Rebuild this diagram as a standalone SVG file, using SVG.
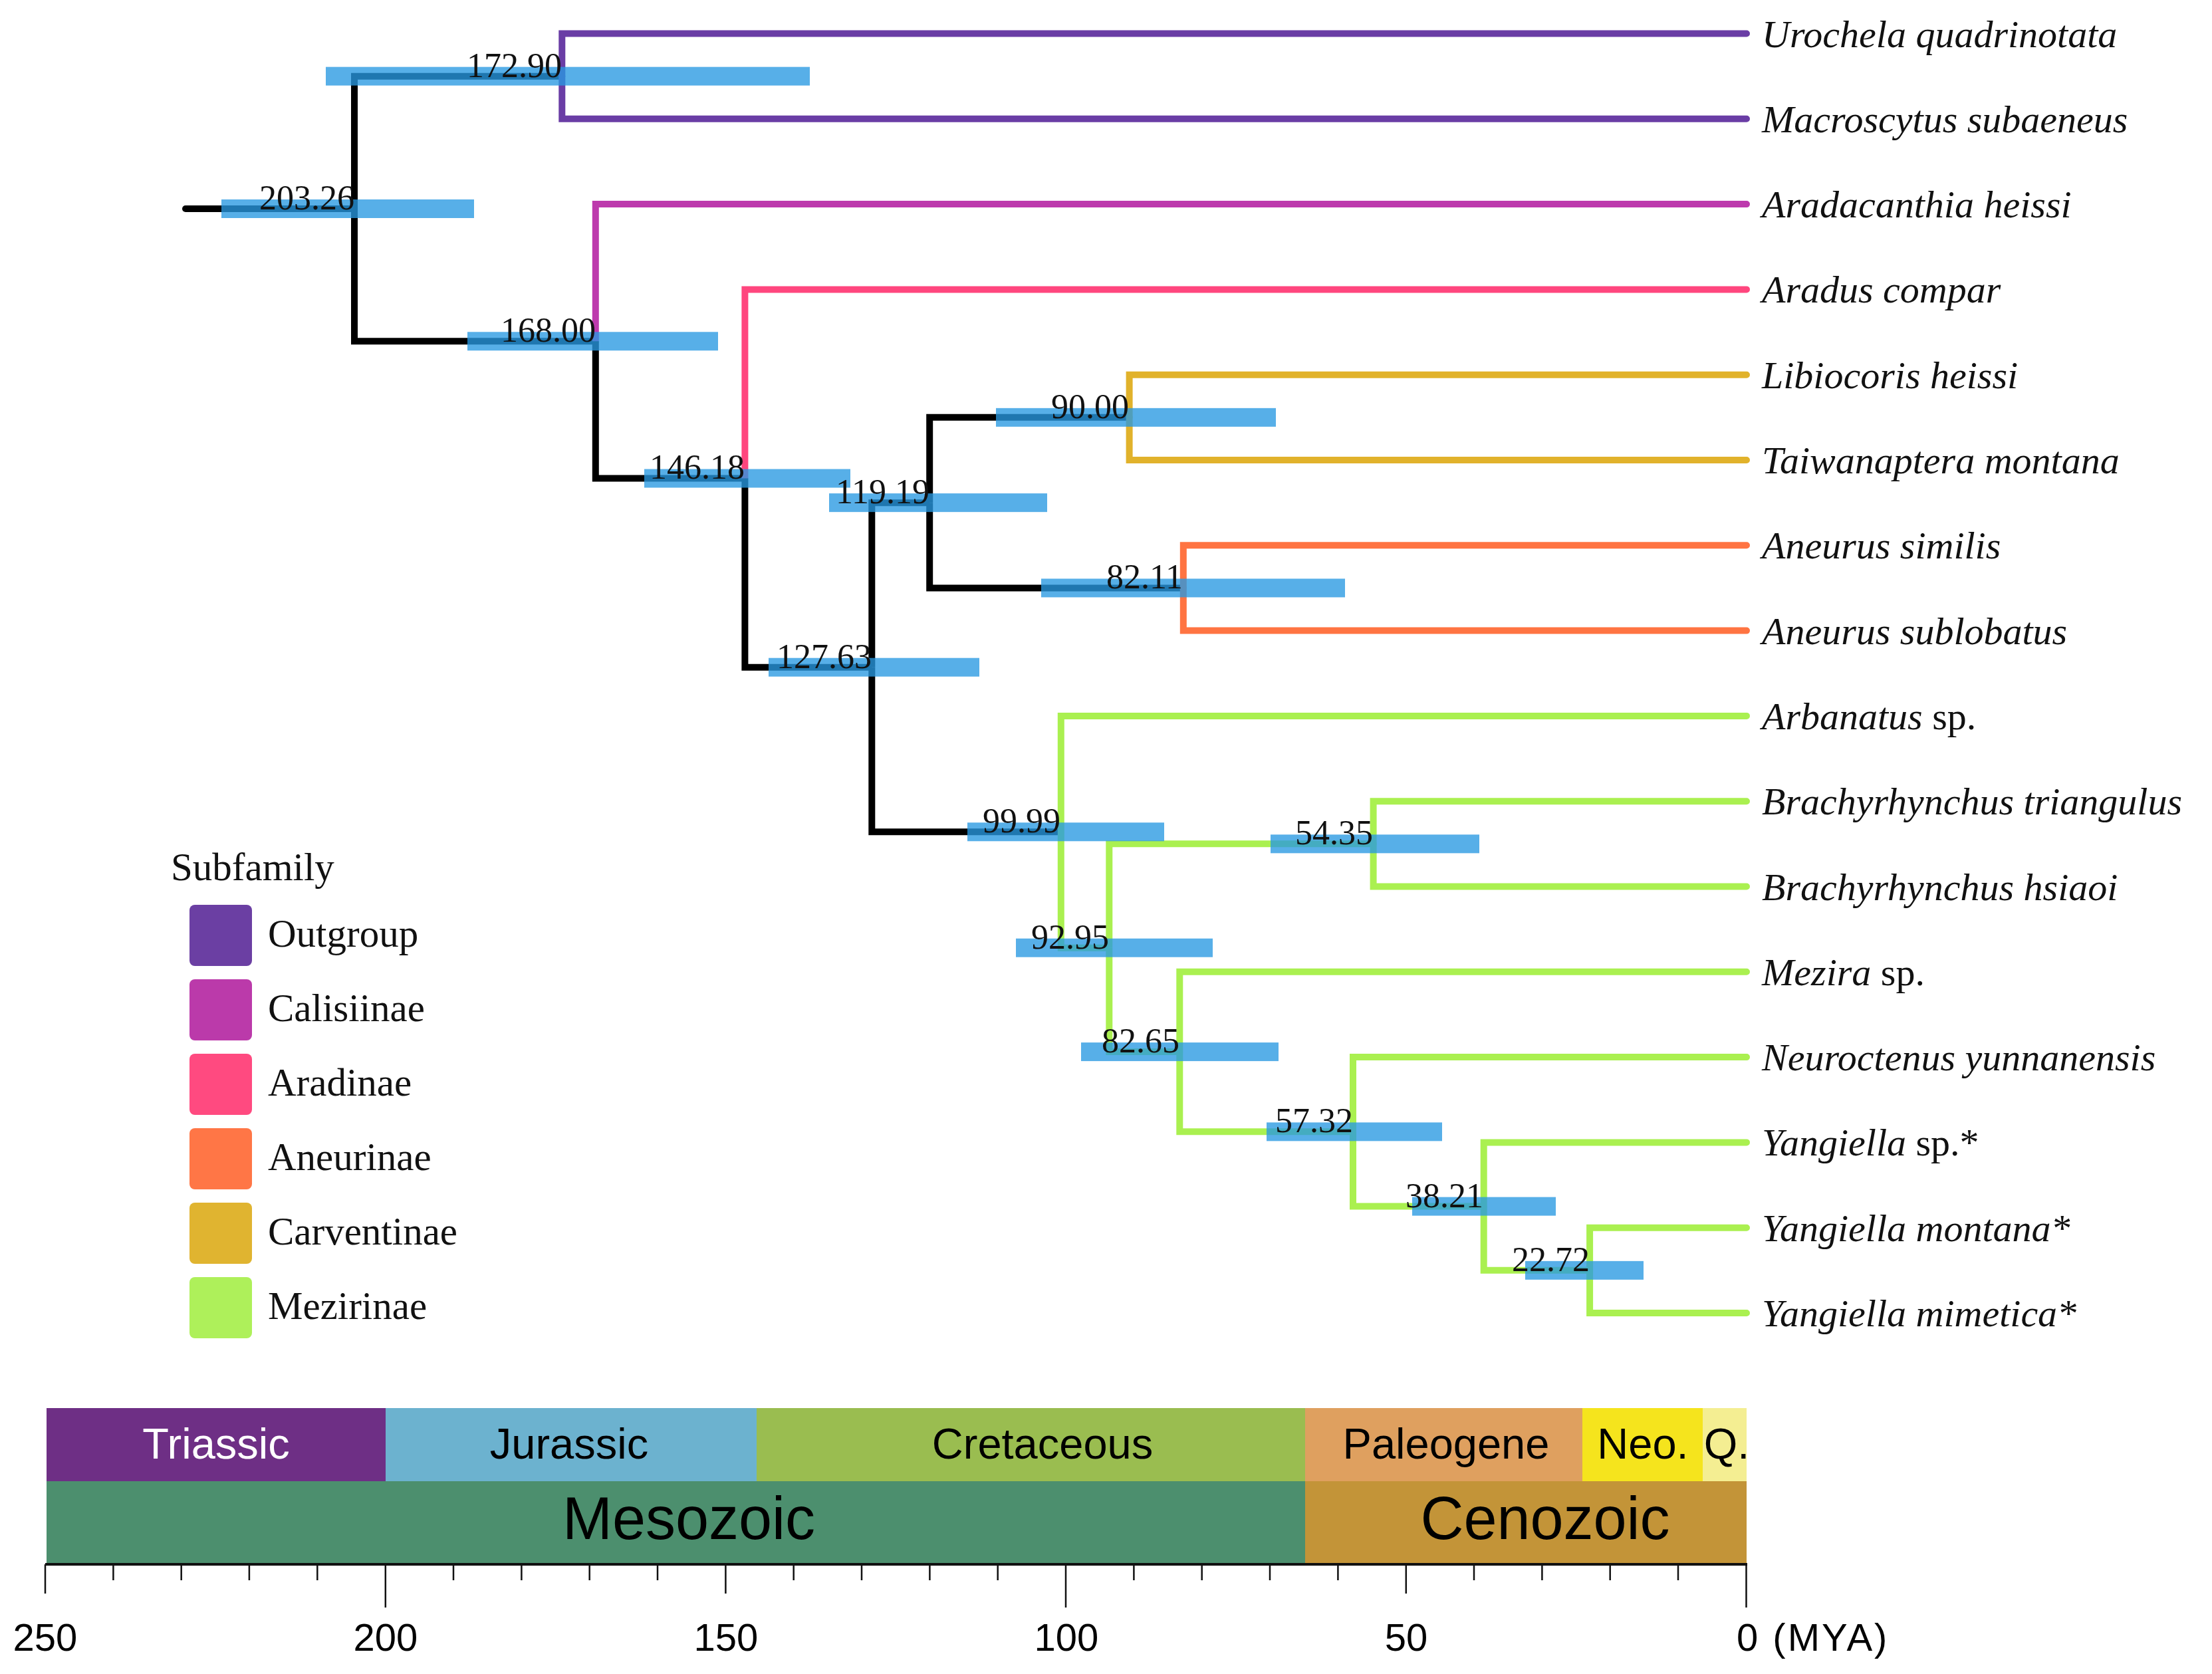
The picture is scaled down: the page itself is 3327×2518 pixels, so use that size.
<svg xmlns="http://www.w3.org/2000/svg" width="3327" height="2518" viewBox="0 0 3327 2518">
<style>
.e{fill:none;stroke-width:10;stroke-linejoin:miter;stroke-linecap:butt}
.t{stroke-linecap:round}
.k{stroke:#000}
.pu{stroke:#6a3da5}
.ma{stroke:#bd3aad}
.pk{stroke:#ff467e}
.go{stroke:#e1b22b}
.or{stroke:#ff7442}
.gr{stroke:#aaf050}
.bar{fill:rgb(40,152,226);fill-opacity:.78}
.age{font-family:"Liberation Serif","Times New Roman",serif;font-size:52px;fill:#111;text-anchor:end}
.tip{font-family:"Liberation Serif","Times New Roman",serif;font-size:58px;font-style:italic;fill:#111}
.rom{font-style:normal}
.leg{font-family:"Liberation Serif","Times New Roman",serif;font-size:59px;fill:#111}
.per{font-family:"Liberation Sans",Arial,sans-serif;font-size:65px;text-anchor:middle;fill:#000}
.era{font-family:"Liberation Sans",Arial,sans-serif;font-size:90px;text-anchor:middle;fill:#000}
.ax{font-family:"Liberation Sans",Arial,sans-serif;font-size:58px;fill:#000}
.tk{stroke:#111;stroke-width:2.5}
</style>
<rect width="3327" height="2518" fill="#fff"/>
<g id="connectors">
<path class="e t k" d="M279,314 H533"/>
<path class="e k" d="M533,314 V114.65 H845.3"/>
<path class="e k" d="M533,314 V513.3 H895.8"/>
<path class="e t pu" d="M845.3,114.65 V50.5 H2627"/>
<path class="e t pu" d="M845.3,114.65 V178.8 H2627"/>
<path class="e t ma" d="M895.8,513.3 V307.1 H2627"/>
<path class="e k" d="M895.8,513.3 V719.55 H1120.4"/>
<path class="e t pk" d="M1120.4,719.55 V435.4 H2627"/>
<path class="e k" d="M1120.4,719.55 V1003.7 H1311.3"/>
<path class="e k" d="M1311.3,1003.7 V756.15 H1398.2"/>
<path class="e k" d="M1311.3,1003.7 V1251.3 H1595.8"/>
<path class="e k" d="M1398.2,756.15 V627.85 H1698.6"/>
<path class="e k" d="M1398.2,756.15 V884.45 H1779.8"/>
<path class="e t go" d="M1698.6,627.85 V563.7 H2627"/>
<path class="e t go" d="M1698.6,627.85 V692 H2627"/>
<path class="e t or" d="M1779.8,884.45 V820.3 H2627"/>
<path class="e t or" d="M1779.8,884.45 V948.6 H2627"/>
<path class="e t gr" d="M1595.8,1251.3 V1076.9 H2627"/>
<path class="e gr" d="M1595.8,1251.3 V1425.7 H1668.3"/>
<path class="e gr" d="M1668.3,1425.7 V1269.35 H2065.6"/>
<path class="e gr" d="M1668.3,1425.7 V1582.1 H1774.3"/>
<path class="e t gr" d="M2065.6,1269.35 V1205.2 H2627"/>
<path class="e t gr" d="M2065.6,1269.35 V1333.5 H2627"/>
<path class="e t gr" d="M1774.3,1582.1 V1461.8 H2627"/>
<path class="e gr" d="M1774.3,1582.1 V1702.35 H2035"/>
<path class="e t gr" d="M2035,1702.35 V1590.1 H2627"/>
<path class="e gr" d="M2035,1702.35 V1814.6 H2231.7"/>
<path class="e t gr" d="M2231.7,1814.6 V1718.4 H2627"/>
<path class="e gr" d="M2231.7,1814.6 V1910.85 H2391.1"/>
<path class="e t gr" d="M2391.1,1910.85 V1846.7 H2627"/>
<path class="e t gr" d="M2391.1,1910.85 V1975 H2627"/>
</g>
<g id="node-203">
<rect class="bar" x="333" y="300" width="380" height="28"/>
<text class="age" x="533" y="315">203.26</text>
</g>
<g id="node-172">
<rect class="bar" x="490" y="100.65" width="728" height="28"/>
<text class="age" x="845" y="116">172.90</text>
</g>
<g id="node-168">
<rect class="bar" x="703" y="499.3" width="377" height="28"/>
<text class="age" x="896" y="514">168.00</text>
</g>
<g id="node-146">
<rect class="bar" x="969" y="705.55" width="310" height="28"/>
<text class="age" x="1120" y="720">146.18</text>
</g>
<g id="node-127">
<rect class="bar" x="1156" y="989.7" width="317" height="28"/>
<text class="age" x="1311" y="1005">127.63</text>
</g>
<g id="node-119">
<rect class="bar" x="1247" y="742.15" width="328" height="28"/>
<text class="age" x="1398" y="757">119.19</text>
</g>
<g id="node-90">
<rect class="bar" x="1498" y="613.85" width="421" height="28"/>
<text class="age" x="1698" y="629">90.00</text>
</g>
<g id="node-82a">
<rect class="bar" x="1566" y="870.45" width="457" height="28"/>
<text class="age" x="1779" y="885">82.11</text>
</g>
<g id="node-99">
<rect class="bar" x="1455" y="1237.3" width="296" height="28"/>
<text class="age" x="1595" y="1252">99.99</text>
</g>
<g id="node-92">
<rect class="bar" x="1528" y="1411.7" width="296" height="28"/>
<text class="age" x="1668" y="1427">92.95</text>
</g>
<g id="node-54">
<rect class="bar" x="1911" y="1255.35" width="314" height="28"/>
<text class="age" x="2065" y="1270">54.35</text>
</g>
<g id="node-82b">
<rect class="bar" x="1626" y="1568.1" width="297" height="28"/>
<text class="age" x="1774" y="1583">82.65</text>
</g>
<g id="node-57">
<rect class="bar" x="1905" y="1688.35" width="264" height="28"/>
<text class="age" x="2035" y="1703">57.32</text>
</g>
<g id="node-38">
<rect class="bar" x="2124" y="1800.6" width="216" height="28"/>
<text class="age" x="2231" y="1816">38.21</text>
</g>
<g id="node-22">
<rect class="bar" x="2294" y="1896.85" width="178" height="28"/>
<text class="age" x="2391" y="1912">22.72</text>
</g>
<g id="tip-01"><text class="tip" x="2650" y="70.5">Urochela quadrinotata</text></g>
<g id="tip-02"><text class="tip" x="2650" y="198.8">Macroscytus subaeneus</text></g>
<g id="tip-03"><text class="tip" x="2650" y="327.1">Aradacanthia heissi</text></g>
<g id="tip-04"><text class="tip" x="2650" y="455.4">Aradus compar</text></g>
<g id="tip-05"><text class="tip" x="2650" y="583.7">Libiocoris heissi</text></g>
<g id="tip-06"><text class="tip" x="2650" y="712">Taiwanaptera montana</text></g>
<g id="tip-07"><text class="tip" x="2650" y="840.3">Aneurus similis</text></g>
<g id="tip-08"><text class="tip" x="2650" y="968.6">Aneurus sublobatus</text></g>
<g id="tip-09"><text class="tip" x="2650" y="1096.9">Arbanatus<tspan class="rom"> sp.</tspan></text></g>
<g id="tip-10"><text class="tip" x="2650" y="1225.2">Brachyrhynchus triangulus</text></g>
<g id="tip-11"><text class="tip" x="2650" y="1353.5">Brachyrhynchus hsiaoi</text></g>
<g id="tip-12"><text class="tip" x="2650" y="1481.8">Mezira<tspan class="rom"> sp.</tspan></text></g>
<g id="tip-13"><text class="tip" x="2650" y="1610.1">Neuroctenus yunnanensis</text></g>
<g id="tip-14"><text class="tip" x="2650" y="1738.4">Yangiella<tspan class="rom"> sp.*</tspan></text></g>
<g id="tip-15"><text class="tip" x="2650" y="1866.7">Yangiella montana*</text></g>
<g id="tip-16"><text class="tip" x="2650" y="1995">Yangiella mimetica*</text></g>
<g id="legend">
<text class="leg" x="257" y="1324">Subfamily</text>
<rect x="285" y="1361" width="94" height="92" rx="8" fill="#6b3fa3"/>
<text class="leg" x="403" y="1424">Outgroup</text>
<rect x="285" y="1473" width="94" height="92" rx="8" fill="#bb3aaa"/>
<text class="leg" x="403" y="1536">Calisiinae</text>
<rect x="285" y="1585" width="94" height="92" rx="8" fill="#ff4a80"/>
<text class="leg" x="403" y="1648">Aradinae</text>
<rect x="285" y="1697" width="94" height="92" rx="8" fill="#ff7646"/>
<text class="leg" x="403" y="1760">Aneurinae</text>
<rect x="285" y="1809" width="94" height="92" rx="8" fill="#e0b430"/>
<text class="leg" x="403" y="1872">Carventinae</text>
<rect x="285" y="1921" width="94" height="92" rx="8" fill="#aef05a"/>
<text class="leg" x="403" y="1984">Mezirinae</text>
</g>
<g id="timescale">
<rect x="70" y="2118" width="510" height="110" fill="#6e2f85"/>
<rect x="580" y="2118" width="558" height="110" fill="#6cb2cf"/>
<rect x="1138" y="2118" width="825" height="110" fill="#9abd50"/>
<rect x="1963" y="2118" width="417" height="110" fill="#dfa05f"/>
<rect x="2380" y="2118" width="181" height="110" fill="#f5e41d"/>
<rect x="2561" y="2118" width="66" height="110" fill="#f4ee92"/>
<rect x="70" y="2228" width="1893" height="124" fill="#4c8f6e"/>
<rect x="1963" y="2228" width="664" height="124" fill="#c39438"/>
<text class="per" x="325" y="2194" style="fill:#fff">Triassic</text>
<text class="per" x="856" y="2194">Jurassic</text>
<text class="per" x="1568" y="2194">Cretaceous</text>
<text class="per" x="2175" y="2194">Paleogene</text>
<text class="per" x="2471" y="2194">Neo.</text>
<text class="per" x="2597" y="2194">Q.</text>
<text class="era" x="1036" y="2315">Mesozoic</text>
<text class="era" x="2324" y="2315">Cenozoic</text>
<line x1="68" y1="2353" x2="2628" y2="2353" stroke="#111" stroke-width="4"/>
<path class="tk" d="M68,2353V2397M170.4,2353V2377M272.7,2353V2377M374.9,2353V2377M477.3,2353V2377M579.8,2353V2418M682,2353V2377M784.4,2353V2377M886.7,2353V2377M989,2353V2377M1091.4,2353V2397M1193.7,2353V2377M1296,2353V2377M1398.4,2353V2377M1500.7,2353V2377M1603,2353V2418M1705.4,2353V2377M1807.7,2353V2377M1910,2353V2377M2012.4,2353V2377M2114.8,2353V2397M2217,2353V2377M2319.4,2353V2377M2421.7,2353V2377M2524,2353V2377M2626.5,2353V2418"/>
<text class="ax" x="68" y="2483" text-anchor="middle">250</text>
<text class="ax" x="580" y="2483" text-anchor="middle">200</text>
<text class="ax" x="1092" y="2483" text-anchor="middle">150</text>
<text class="ax" x="1604" y="2483" text-anchor="middle">100</text>
<text class="ax" x="2115" y="2483" text-anchor="middle">50</text>
<text class="ax" x="2612" y="2483" letter-spacing="3">0 (MYA)</text>
</g>
</svg>
